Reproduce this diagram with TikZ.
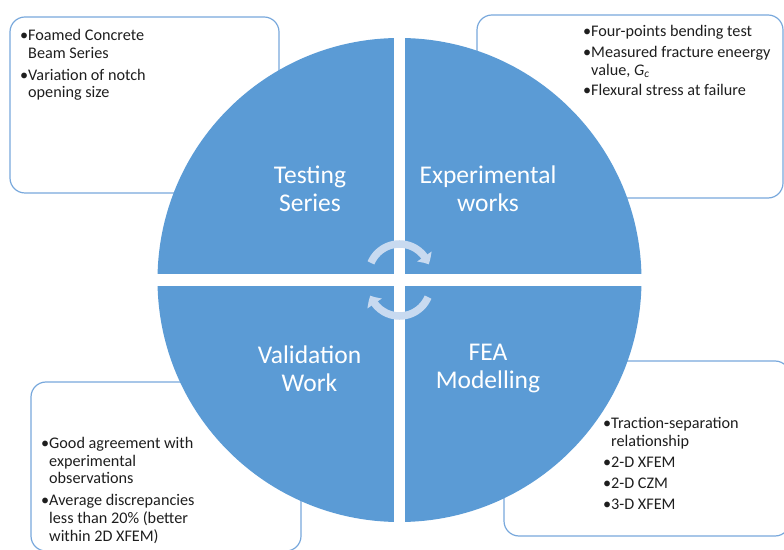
\documentclass[tikz,border=0pt]{standalone}
\usepackage{fontspec}
\setmainfont{Carlito}
\usepackage{tikz}
\usetikzlibrary{arrows.meta}
\usetikzlibrary{bending}

\definecolor{quadblue}{RGB}{91,155,213}
\definecolor{boxline}{RGB}{120,168,220}
\definecolor{arrowc}{RGB}{200,218,240}
\definecolor{txtc}{RGB}{30,30,30}

\newcommand{\bul}{\rule{0pt}{13pt}\makebox[8pt][l]{\textbullet}}
\newcommand{\nob}{\hspace*{8pt}}

\tikzset{
	infobox/.style = {draw = boxline, line width = 1.2pt, rounded corners = 15pt},
	bullets/.style = {anchor = north west, inner sep = 0pt, align = left, text = txtc,
		font = \fontsize{16.2}{17.7}\selectfont},
	quadlabel/.style = {align = center, text = white, inner sep = 0pt,
		font = \fontsize{25.5}{28}\selectfont},
	cyclearrow/.style = {draw = arrowc, line width = 7.5pt,
		-{Triangle[length = 9pt, width = 17pt, bend]}}
}

\begin{document}
\begin{tikzpicture}[x = 1pt, y = 1pt]
	\useasboundingbox (0,0) rectangle (784,549);
	
	\draw [infobox] (10,356) rectangle (279,532);
	\draw [infobox] (477,351) rectangle (783,534);
	\draw [infobox] (31,-2) rectangle (301,167);
	\draw [infobox] (504,13) rectangle (790,188);
	
	\fill [quadblue] (399.5,269) circle (242);
	\draw [white, line width = 11pt] (399.5,20) -- (399.5,518);
	\draw [white, line width = 12pt] (150,269) -- (650,269);
	
	\node [quadlabel] (testing) at (310,360) {Testing\\Series};
	\node [quadlabel] (experimental) at (488,360) {Experimental\\works};
	\node [quadlabel] (validation) at (309.5,180) {Validation\\Work};
	\node [quadlabel] (fea) at (488,180) {FEA\\Modelling};
	
	\draw [cyclearrow] (399.5,274) ++(157:31) arc [start angle = 157, end angle = 20, radius = 31];
	\draw [cyclearrow] (399.5,264) ++(-23:31) arc [start angle = -23, end angle = -160, radius = 31];
	
	\node [bullets] (testlist) at (20,521.3)
		{\bul Foamed Concrete\\\nob Beam Series\\[4pt]\bul Variation of notch\\\nob opening size};
	\node [bullets] (explist) at (583,525.3)
		{\bul Four-points bending test\\[3pt]\bul Measured fracture eneergy\\\nob value, \textit{G}\textsubscript{\textit{c}}\\[3pt]\bul Flexural stress at failure};
	\node [bullets] (vallist) at (41,113.7)
		{\bul Good agreement with\\\nob experimental\\\nob observations\\[4pt]\bul Average discrepancies\\\nob less than 20\% (better\\\nob within 2D XFEM)};
	\node [bullets] (fealist) at (603,133.7)
		{\bul Traction-separation\\\nob relationship\\[4pt]\bul 2-D XFEM\\[3pt]\bul 2-D CZM\\[3pt]\bul 3-D XFEM};
\end{tikzpicture}
\end{document}
